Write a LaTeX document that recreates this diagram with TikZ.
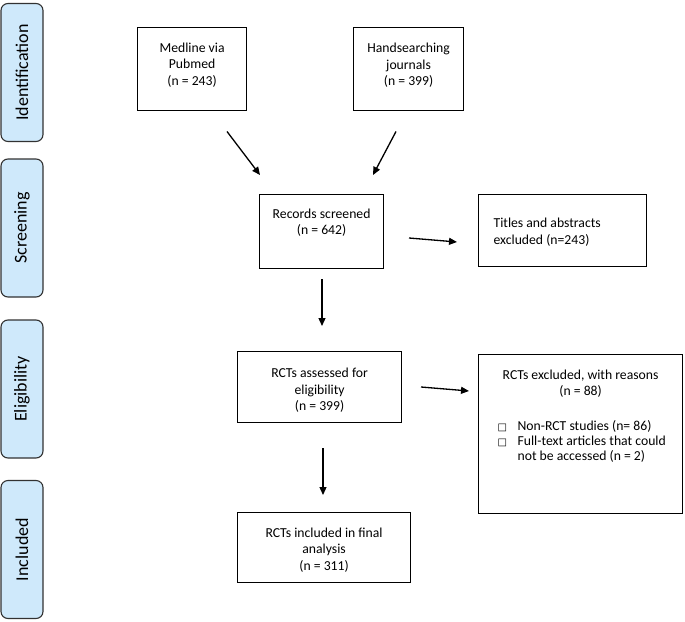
\documentclass[tikz,border=0pt]{standalone}
\usepackage{fontspec}
\setmainfont{Carlito}
\newfontfamily\symfont{DejaVu Sans}
\usetikzlibrary{arrows.meta}
\definecolor{sidefill}{RGB}{207,233,251}
\definecolor{sidedraw}{RGB}{50,50,50}
\newcommand{\boxtxt}[4]{\parbox[c][#2][t]{#1}{\centering\rule{0pt}{#3}#4\par}}
\newcommand{\sqbullet}{\leavevmode\llap{\makebox[20pt][l]{\symfont\fontsize{10}{12}\selectfont □}}}
\begin{document}
\begin{tikzpicture}[x=1pt,y=-1pt,
  font=\fontsize{13.7}{16.5}\selectfont,
  flowbox/.style={draw=black,line width=1.2pt,inner sep=0pt,anchor=north west},
  sidebox/.style={draw=sidedraw,fill=sidefill,line width=1.1pt,rounded corners=7pt,
    rotate=90,minimum width=138pt,minimum height=42pt,inner sep=0pt,
    font=\fontsize{18}{20}\selectfont},
  flowarrow/.style={line width=1.3pt,-{Triangle[length=8pt,width=7pt]}}]
\useasboundingbox (0,0) rectangle (685,621);

% side labels
\node[sidebox] (sid) at (22,72.5) {Identification};
\node[sidebox] (ssc) at (22,228) {Screening};
\node[sidebox] (sel) at (22,389) {Eligibility};
\node[sidebox] (sin) at (22,549.5) {Included};

% boxes
\node[flowbox] (med) at (137,27) {\boxtxt{109pt}{83pt}{24.5pt}{Medline via\\Pubmed\\(n = 243)}};
\node[flowbox] (hand) at (353,27) {\boxtxt{110pt}{83pt}{25pt}{Handsearching\\journals\\(n = 399)}};
\node[flowbox] (rec) at (259,194) {\boxtxt{124pt}{74pt}{23.5pt}{Records screened\\(n = 642)}};
\node[flowbox] (tit) at (478,194) {\parbox[c][72pt][t]{168pt}{\leftskip=15pt\parindent=0pt\rule{0pt}{33pt}Titles and abstracts\\excluded (n=243)\par}};
\node[flowbox] (ass) at (237,351) {\boxtxt{164pt}{71pt}{26pt}{RCTs assessed for\\eligibility\\(n = 399)}};
\node[flowbox] (exc) at (478,354) {\parbox[c][159pt][t]{204pt}{\parindent=0pt
  {\centering\rule{0pt}{24.5pt}RCTs excluded, with reasons\\(n = 88)\par}
  \vspace{20pt}
  {\leftskip=39pt\baselineskip=15pt
  \sqbullet Non-RCT studies (n= 86)\par
  \sqbullet Full-text articles that could\\
  not be accessed (n = 2)\par}}};
\node[flowbox] (inc) at (237,512) {\boxtxt{173pt}{70pt}{24.5pt}{RCTs included in final\\analysis\\(n = 311)}};

% arrow end points
\coordinate (a1s) at (227,131.5);
\coordinate (a1e) at (260,175);
\coordinate (a2s) at (396,131.5);
\coordinate (a2e) at (373,175);
\coordinate (a3s) at (409,238);
\coordinate (a3e) at (457,242);
\coordinate (a4s) at (322,279);
\coordinate (a4e) at (322,326);
\coordinate (a5s) at (421,387);
\coordinate (a5e) at (469,391);
\coordinate (a6s) at (323,448);
\coordinate (a6e) at (323,495);

\draw[flowarrow] (a1s) -- (a1e);
\draw[flowarrow] (a2s) -- (a2e);
\draw[flowarrow] (a3s) -- (a3e);
\draw[flowarrow] (a4s) -- (a4e);
\draw[flowarrow] (a5s) -- (a5e);
\draw[flowarrow] (a6s) -- (a6e);
\end{tikzpicture}
\end{document}
